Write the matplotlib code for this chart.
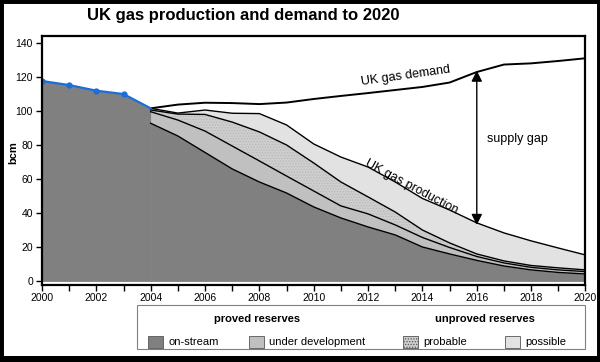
import matplotlib
matplotlib.use("Agg")
import matplotlib.pyplot as plt
from matplotlib.patches import Rectangle

plt.rcParams['font.family'] = ['Liberation Sans', 'DejaVu Sans']
plt.rcParams['hatch.linewidth'] = 0.6

# historic production (blue line)
years_hist = [2000, 2001, 2002, 2003, 2004]
hist_prod = [117.8, 115.4, 112.1, 110.1, 101.7]

# forecast, bcm
years = list(range(2004, 2021))
demand = [101.7, 103.9, 105.0, 104.8, 104.2, 105.1, 107.2, 109.0, 110.7,
          112.5, 114.3, 116.9, 123.1, 127.5, 128.2, 129.6, 131.2]
# cumulative tops of the stacked layers
top_on_stream = [92.9, 85.4, 75.7, 66.0, 58.3, 51.8, 43.6, 37.1, 31.8,
                 27.1, 20.0, 15.9, 12.1, 8.8, 6.5, 5.0, 4.1]
top_under_dev = [99.7, 94.8, 88.3, 79.5, 70.7, 61.8, 53.0, 44.2, 39.5,
                 33.0, 25.6, 19.7, 14.4, 10.6, 8.0, 6.5, 5.5]
top_probable = [100.7, 98.3, 98.1, 93.6, 87.8, 80.1, 69.5, 58.3, 49.5,
                40.6, 30.0, 22.4, 15.9, 11.8, 9.1, 7.7, 6.5]
top_possible = [101.7, 98.9, 100.7, 98.8, 98.6, 91.9, 80.7, 73.0, 67.1,
                58.3, 48.6, 41.8, 34.2, 28.3, 23.6, 19.4, 15.3]

gap_year = 2016
gap_top = 123.9
gap_bottom = 33.0

c_on = '#808080'
c_dev = '#c0c0c0'
c_prob = '#cecece'
c_poss = '#e2e2e2'

fig = plt.figure(figsize=(6, 3.62), dpi=100)
ax = fig.add_axes([0.07, 0.2127, 0.9058, 0.6887])

# historic area
ax.fill_between(years_hist, 0, hist_prod, facecolor=c_on, edgecolor=c_on, lw=0.6)
# forecast stacked areas
ax.fill_between(years, 0, top_on_stream, facecolor=c_on, edgecolor=c_on, lw=0.6)
ax.fill_between(years, top_on_stream, top_under_dev, color=c_dev, lw=0)
ax.fill_between(years, top_under_dev, top_probable, facecolor=c_prob,
                edgecolor='#b8b8b8', hatch='......', lw=0)
ax.fill_between(years, top_probable, top_possible, color=c_poss, lw=0)

for top in [top_on_stream, top_under_dev, top_probable, top_possible]:
    ax.plot(years, top, color='black', lw=1.0)
ax.plot(years, demand, color='black', lw=1.4)

ax.plot(years_hist, hist_prod, color='#1c6ed8', lw=1.6, marker='o',
        markersize=3.5, markevery=[0, 1, 2, 3])

# supply gap arrow
ax.annotate('', xy=(gap_year, gap_top), xytext=(gap_year, gap_bottom),
            arrowprops=dict(arrowstyle='<|-|>', color='black', lw=1.0,
                            mutation_scale=16, shrinkA=0, shrinkB=0))
ax.text(2017.5, 83.6, 'supply gap', fontsize=9, ha='center', va='center')
ax.text(2013.4, 120.7, 'UK gas demand', fontsize=9, rotation=8,
        ha='center', va='center')
ax.text(2013.6, 55.5, 'UK gas production', fontsize=9, rotation=-28,
        ha='center', va='center')

ax.set_xlim(2000, 2020)
ax.set_ylim(-2.4, 144.5)
ax.set_xticks(range(2000, 2021, 2))
ax.set_xticks(range(2001, 2020, 2), minor=True)
ax.set_yticks(range(0, 141, 20))
ax.tick_params(axis='both', which='both', length=4, width=1, labelsize=7.5,
               direction='out')
ax.tick_params(axis='x', pad=1.5)
ax.tick_params(axis='y', pad=2.5)
for s in ax.spines.values():
    s.set_linewidth(1.6)
    s.set_color('black')

fig.text(13 / 600, 1 - 153 / 362, 'bcm', rotation=90, fontsize=8,
         fontweight='bold', ha='center', va='center')
fig.text(0.405, 0.958, 'UK gas production and demand to 2020', fontsize=12,
         fontweight='bold', ha='center', va='center')

# legend box
fig.patches.append(Rectangle((137 / 600, 1 - 349 / 362), 448 / 600, 44 / 362,
                             transform=fig.transFigure, fill=False,
                             edgecolor='#808080', lw=0.8))
fig.text(257 / 600, 1 - 319 / 362, 'proved reserves', fontsize=8,
         fontweight='bold', ha='center', va='center')
fig.text(485 / 600, 1 - 319 / 362, 'unproved reserves', fontsize=8,
         fontweight='bold', ha='center', va='center')

legend_items = [('on-stream', c_on, None, 148), ('under development', c_dev, None, 249),
                ('probable', c_prob, '......', 403), ('possible', c_poss, None, 505)]
for label, col, hatch, px in legend_items:
    fig.patches.append(Rectangle((px / 600, 1 - 348 / 362), 15 / 600, 12 / 362,
                                 transform=fig.transFigure, facecolor=col,
                                 edgecolor='#555555', lw=0.6, hatch=hatch))
    fig.text((px + 20) / 600, 1 - 342 / 362, label, fontsize=8,
             ha='left', va='center')

# outer frame
fig.patches.append(Rectangle((0, 0), 1, 1, transform=fig.transFigure,
                             fill=False, edgecolor='black', lw=5))
fig.patches.append(Rectangle((0, 0), 1, 6 / 362, transform=fig.transFigure,
                             facecolor='black', lw=0))

fig.savefig('out.png', dpi=100)
